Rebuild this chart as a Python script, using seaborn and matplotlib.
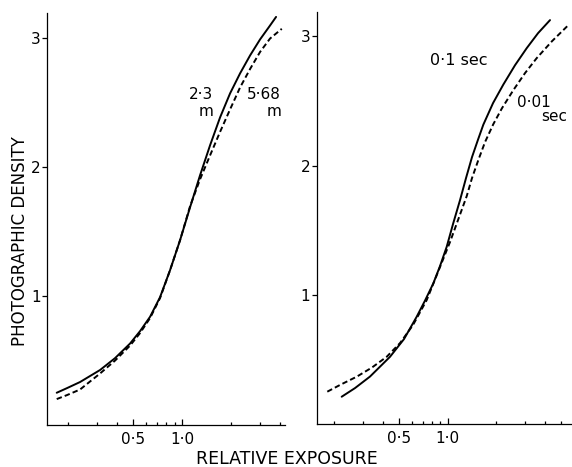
import matplotlib
matplotlib.use("Agg")
import matplotlib.pyplot as plt
import seaborn as sns
import pandas as pd
from matplotlib.ticker import FixedLocator, FixedFormatter, NullFormatter

# ---------------- data ----------------
# left panel: solid = 2·3 m, dashed = 5·68 m
left_solid_x = [0.1703, 0.1970, 0.2367, 0.3140, 0.3881, 0.4797, 0.5525, 0.6363, 0.7328,
                0.8441, 0.9721, 1.1197, 1.2895, 1.4853, 1.7107, 1.9704, 2.2694, 2.6141,
                3.0102, 3.4671, 3.7731]
left_solid_y = [0.252, 0.288, 0.335, 0.428, 0.520, 0.633, 0.729, 0.840, 0.992,
                1.201, 1.433, 1.688, 1.936, 2.168, 2.384, 2.570, 2.725, 2.864,
                2.988, 3.096, 3.162]
left_dash_x = [0.1703, 0.1970, 0.2367, 0.3140, 0.3881, 0.4797, 0.5525, 0.6363, 0.7328,
               0.8441, 0.9721, 1.1197, 1.2895, 1.4853, 1.7107, 1.9704, 2.2694, 2.6141,
               3.0102, 3.4671, 4.0900]
left_dash_y = [0.203, 0.234, 0.277, 0.401, 0.501, 0.617, 0.714, 0.830, 0.985,
               1.201, 1.433, 1.696, 1.905, 2.090, 2.272, 2.446, 2.616, 2.759,
               2.891, 2.995, 3.070]

# right panel: solid = 0·1 sec, dashed = 0·01 sec
right_solid_x = [0.2216, 0.2679, 0.3314, 0.4404, 0.5373, 0.6435, 0.7244, 0.8150, 0.8965,
                 0.9858, 1.0782, 1.1912, 1.2972, 1.4125, 1.5382, 1.6590, 1.9047, 2.2035,
                 2.6030, 3.0738, 3.6105, 4.2808]
right_solid_y = [0.211, 0.278, 0.367, 0.520, 0.657, 0.830, 0.955, 1.088, 1.222,
                 1.371, 1.547, 1.732, 1.903, 2.065, 2.200, 2.316, 2.483, 2.626,
                 2.776, 2.908, 3.024, 3.125]
right_dash_x = [0.1806, 0.2163, 0.2744, 0.3408, 0.4201, 0.5077, 0.6107, 0.7419, 0.8711,
                1.0332, 1.1578, 1.3100, 1.4125, 1.5450, 1.6991, 1.9121, 2.1639, 2.5408,
                3.0004, 3.5433, 4.4043, 5.5527]
right_dash_y = [0.250, 0.302, 0.366, 0.437, 0.520, 0.626, 0.766, 0.959, 1.176,
                1.408, 1.578, 1.763, 1.903, 2.042, 2.181, 2.320, 2.444, 2.583,
                2.715, 2.831, 2.962, 3.086]

left_series = ["2·3 m", "5·68 m"]
right_series = ["0·1 sec", "0·01 sec"]

x_major = [0.5, 1.0]
x_major_labels = ["0·5", "1·0"]
x_minor_left = [0.2, 0.3, 0.4, 0.6, 0.7, 0.8, 0.9, 2, 3, 4]
x_minor_right = [0.2, 0.3, 0.4, 0.6, 0.7, 0.8, 0.9, 2, 3, 4, 5]
y_ticks = [1, 2, 3]
y_tick_labels = ["1", "2", "3"]

# ---------------- style ----------------
sns.set_style("ticks")
plt.rcParams['font.family'] = ['DejaVu Sans']
plt.rcParams['axes.linewidth'] = 0.9

W, H = 572, 467
fig = plt.figure(figsize=(W / 100, H / 100), dpi=100)


def px_box(l, t, r, b):
    return [l / W, 1 - b / H, (r - l) / W, (b - t) / H]


ax1 = fig.add_axes(px_box(47.4, 13.3, 285, 425.3))
ax2 = fig.add_axes(px_box(317.3, 11.7, 572, 424))

DASH = (2.8, 1.6)


def draw(ax, sx, sy, dx, dy, names, xlim, minor):
    df = pd.concat([
        pd.DataFrame({"x": sx, "y": sy, "s": names[0]}),
        pd.DataFrame({"x": dx, "y": dy, "s": names[1]}),
    ], ignore_index=True)
    sns.lineplot(data=df, x="x", y="y", style="s", ax=ax, color="black",
                 dashes={names[0]: "", names[1]: DASH}, lw=1.4,
                 sort=False, estimator=None, legend=False)
    ax.set_xscale("log")
    ax.set_xlim(*xlim)
    ax.set_ylim(0, 3.19)
    ax.xaxis.set_major_locator(FixedLocator(x_major))
    ax.xaxis.set_major_formatter(FixedFormatter(x_major_labels))
    ax.xaxis.set_minor_locator(FixedLocator(minor))
    ax.xaxis.set_minor_formatter(NullFormatter())
    ax.set_yticks(y_ticks)
    ax.set_yticklabels(y_tick_labels)
    ax.tick_params(axis="x", which="major", direction="in", length=4.5,
                   width=0.9, labelsize=11, pad=5, colors="black")
    ax.tick_params(axis="x", which="minor", direction="in", length=2,
                   width=0.9, colors="black")
    ax.tick_params(axis="y", which="major", direction="out", length=3.5,
                   width=0.9, labelsize=11, pad=1.5, colors="black")
    ax.set_xlabel("")
    ax.set_ylabel("")
    sns.despine(ax=ax)
    for sp in ax.spines.values():
        sp.set_color("black")


draw(ax1, left_solid_x, left_solid_y, left_dash_x, left_dash_y, left_series,
     (0.1493, 4.28), x_minor_left)
draw(ax2, right_solid_x, right_solid_y, right_dash_x, right_dash_y, right_series,
     (0.1567, 5.85), x_minor_right)


def ftext(x, y, s, ha="left", va="baseline", size=11, **kw):
    fig.text(x / W, 1 - y / H, s, ha=ha, va=va, fontsize=size, color="black", **kw)


# axis titles
ftext(20, 241, "PHOTOGRAPHIC DENSITY", ha="center", va="center", size=12, rotation=90)
ftext(286.7, 459.5, "RELATIVE EXPOSURE", ha="center", va="center", size=12.5)

# curve annotations
ftext(213, 87, "2·3\nm", ha="right", va="top", multialignment="right", linespacing=1.15)
ftext(281, 87, "5·68\nm", ha="right", va="top", multialignment="right", linespacing=1.15)
ftext(430, 65, "0·1 sec", ha="left", size=11.5)
ftext(551, 107, "0·01", ha="right")
ftext(567, 121, "sec", ha="right")

fig.savefig("out.png", dpi=100)
